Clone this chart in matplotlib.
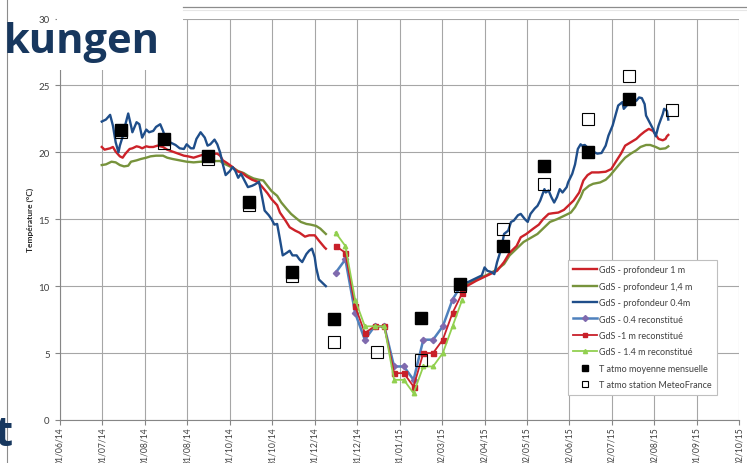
import matplotlib
matplotlib.use("Agg")
import matplotlib.pyplot as plt
from matplotlib.lines import Line2D
from matplotlib.patches import Rectangle
import numpy as np
import pandas as pd

plt.rcParams['font.family'] = ['Lato', 'DejaVu Sans']

# ---- ground temperature, daily records (first period) ----
gds_04_a = [
    ("2014-07-01", 22.3), ("2014-07-04", 22.45), ("2014-07-07", 22.8), ("2014-07-09", 22.0),
    ("2014-07-11", 20.75), ("2014-07-13", 20.0), ("2014-07-14", 20.5), ("2014-07-17", 21.5),
    ("2014-07-18", 22.1), ("2014-07-20", 22.9), ("2014-07-22", 22.0), ("2014-07-23", 21.5),
    ("2014-07-26", 22.25), ("2014-07-28", 22.1), ("2014-07-30", 21.1), ("2014-08-02", 21.7),
    ("2014-08-04", 21.5), ("2014-08-07", 21.6), ("2014-08-09", 21.9), ("2014-08-12", 22.1),
    ("2014-08-14", 21.6), ("2014-08-16", 21.0), ("2014-08-19", 20.75), ("2014-08-23", 20.55),
    ("2014-08-26", 20.3), ("2014-08-29", 20.25), ("2014-08-31", 20.6), ("2014-09-03", 20.3),
    ("2014-09-05", 20.3), ("2014-09-07", 21.0), ("2014-09-10", 21.5), ("2014-09-13", 21.1),
    ("2014-09-15", 20.5), ("2014-09-17", 20.6), ("2014-09-20", 20.95), ("2014-09-22", 20.6),
    ("2014-09-24", 20.0), ("2014-09-26", 19.1), ("2014-09-28", 18.3), ("2014-10-01", 18.6),
    ("2014-10-03", 18.9), ("2014-10-05", 18.6), ("2014-10-07", 18.1), ("2014-10-09", 18.4),
    ("2014-10-11", 18.0), ("2014-10-12", 17.8), ("2014-10-14", 17.4), ("2014-10-17", 17.5),
    ("2014-10-19", 17.6), ("2014-10-22", 17.8), ("2014-10-24", 16.75), ("2014-10-26", 15.65),
    ("2014-10-29", 15.3), ("2014-10-31", 15.0), ("2014-11-02", 14.6), ("2014-11-04", 14.65),
    ("2014-11-06", 13.5), ("2014-11-08", 12.3), ("2014-11-11", 12.5), ("2014-11-13", 12.65),
    ("2014-11-15", 12.3), ("2014-11-18", 12.3), ("2014-11-20", 12.0), ("2014-11-22", 11.8),
    ("2014-11-25", 12.4), ("2014-11-27", 12.65), ("2014-11-29", 12.8), ("2014-12-01", 12.15),
    ("2014-12-02", 11.4), ("2014-12-04", 10.5), ("2014-12-09", 10.0),
]

gds_1_a = [
    ("2014-07-01", 20.4), ("2014-07-03", 20.2), ("2014-07-07", 20.3), ("2014-07-09", 20.4),
    ("2014-07-11", 20.05), ("2014-07-14", 19.7), ("2014-07-16", 19.6), ("2014-07-18", 19.9),
    ("2014-07-21", 20.25), ("2014-07-23", 20.3), ("2014-07-26", 20.45), ("2014-07-28", 20.4),
    ("2014-07-30", 20.3), ("2014-08-02", 20.45), ("2014-08-04", 20.4), ("2014-08-07", 20.4),
    ("2014-08-10", 20.5), ("2014-08-14", 20.4), ("2014-08-17", 20.2), ("2014-08-21", 20.05),
    ("2014-08-25", 19.9), ("2014-08-29", 19.75), ("2014-09-01", 19.7), ("2014-09-05", 19.6),
    ("2014-09-08", 19.7), ("2014-09-11", 19.8), ("2014-09-14", 19.8), ("2014-09-18", 19.9),
    ("2014-09-22", 19.9), ("2014-09-24", 19.75), ("2014-09-26", 19.4), ("2014-09-29", 19.2),
    ("2014-10-03", 18.9), ("2014-10-06", 18.6), ("2014-10-10", 18.45), ("2014-10-13", 18.2),
    ("2014-10-17", 17.95), ("2014-10-21", 17.8), ("2014-10-24", 17.45), ("2014-10-28", 16.95),
    ("2014-10-31", 16.5), ("2014-11-04", 16.05), ("2014-11-06", 15.5), ("2014-11-10", 14.9),
    ("2014-11-13", 14.4), ("2014-11-17", 14.15), ("2014-11-20", 14.0), ("2014-11-24", 13.7),
    ("2014-11-27", 13.8), ("2014-12-01", 13.8), ("2014-12-04", 13.4), ("2014-12-08", 12.9),
    ("2014-12-09", 12.8),
]

gds_14_a = [
    ("2014-07-01", 19.05), ("2014-07-04", 19.1), ("2014-07-08", 19.3), ("2014-07-11", 19.25),
    ("2014-07-14", 19.05), ("2014-07-17", 18.95), ("2014-07-20", 19.0), ("2014-07-22", 19.3),
    ("2014-07-26", 19.4), ("2014-07-29", 19.5), ("2014-08-02", 19.6), ("2014-08-05", 19.7),
    ("2014-08-09", 19.75), ("2014-08-14", 19.75), ("2014-08-17", 19.6), ("2014-08-21", 19.5),
    ("2014-08-26", 19.4), ("2014-08-31", 19.3), ("2014-09-05", 19.25), ("2014-09-10", 19.3),
    ("2014-09-14", 19.3), ("2014-09-19", 19.35), ("2014-09-24", 19.35), ("2014-09-26", 19.2),
    ("2014-09-30", 19.0), ("2014-10-04", 18.8), ("2014-10-07", 18.6), ("2014-10-11", 18.45),
    ("2014-10-14", 18.25), ("2014-10-18", 18.05), ("2014-10-22", 17.95), ("2014-10-25", 17.9),
    ("2014-10-28", 17.5), ("2014-10-31", 17.1), ("2014-11-04", 16.75), ("2014-11-07", 16.25),
    ("2014-11-11", 15.75), ("2014-11-14", 15.4), ("2014-11-18", 15.05), ("2014-11-21", 14.8),
    ("2014-11-25", 14.65), ("2014-11-28", 14.6), ("2014-12-02", 14.5), ("2014-12-05", 14.3),
    ("2014-12-09", 13.9),
]

# ---- ground temperature, daily records (second period) ----
gds_04_b = [
    ("2015-03-18", 10.3), ("2015-03-21", 10.3), ("2015-03-24", 10.45), ("2015-03-31", 10.8),
    ("2015-04-02", 11.4), ("2015-04-04", 11.15), ("2015-04-07", 11.05), ("2015-04-09", 10.9),
    ("2015-04-11", 11.8), ("2015-04-14", 12.8), ("2015-04-16", 13.9), ("2015-04-19", 14.15),
    ("2015-04-21", 14.8), ("2015-04-23", 14.9), ("2015-04-26", 15.3), ("2015-04-28", 15.4),
    ("2015-05-01", 15.0), ("2015-05-03", 14.8), ("2015-05-05", 15.4), ("2015-05-08", 15.8),
    ("2015-05-10", 16.0), ("2015-05-12", 16.4), ("2015-05-15", 17.25), ("2015-05-16", 17.0),
    ("2015-05-18", 17.15), ("2015-05-20", 16.65), ("2015-05-22", 16.25), ("2015-05-24", 16.65),
    ("2015-05-26", 17.25), ("2015-05-28", 17.0), ("2015-05-31", 17.4), ("2015-06-01", 17.75),
    ("2015-06-04", 18.4), ("2015-06-06", 19.1), ("2015-06-08", 20.25), ("2015-06-10", 20.6),
    ("2015-06-11", 20.5), ("2015-06-13", 20.55), ("2015-06-16", 20.25), ("2015-06-19", 20.05),
    ("2015-06-22", 19.9), ("2015-06-25", 19.95), ("2015-06-28", 20.5), ("2015-06-30", 21.25),
    ("2015-07-03", 22.0), ("2015-07-05", 22.75), ("2015-07-07", 23.5), ("2015-07-10", 23.75),
    ("2015-07-11", 23.25), ("2015-07-14", 23.6), ("2015-07-16", 23.75), ("2015-07-18", 24.0),
    ("2015-07-20", 23.85), ("2015-07-22", 24.1), ("2015-07-24", 24.05), ("2015-07-26", 23.6),
    ("2015-07-27", 22.75), ("2015-07-29", 22.35), ("2015-08-01", 21.75), ("2015-08-03", 21.2),
    ("2015-08-05", 22.0), ("2015-08-08", 22.85), ("2015-08-09", 23.25), ("2015-08-11", 23.1),
    ("2015-08-12", 22.45),
]

gds_1_b = [
    ("2015-03-21", 10.05), ("2015-03-27", 10.4), ("2015-04-04", 10.8), ("2015-04-11", 11.15),
    ("2015-04-16", 11.8), ("2015-04-20", 12.5), ("2015-04-25", 13.0), ("2015-04-28", 13.65),
    ("2015-05-02", 13.9), ("2015-05-07", 14.3), ("2015-05-11", 14.6), ("2015-05-14", 15.0),
    ("2015-05-18", 15.4), ("2015-05-21", 15.45), ("2015-05-25", 15.5), ("2015-05-29", 15.7),
    ("2015-06-01", 16.0), ("2015-06-05", 16.4), ("2015-06-09", 17.0), ("2015-06-12", 17.9),
    ("2015-06-15", 18.3), ("2015-06-18", 18.5), ("2015-06-23", 18.5), ("2015-06-28", 18.55),
    ("2015-07-02", 18.75), ("2015-07-05", 19.25), ("2015-07-09", 19.9), ("2015-07-12", 20.5),
    ("2015-07-16", 20.75), ("2015-07-20", 21.0), ("2015-07-23", 21.3), ("2015-07-26", 21.55),
    ("2015-07-29", 21.75), ("2015-08-01", 21.6), ("2015-08-03", 21.3), ("2015-08-05", 21.0),
    ("2015-08-08", 20.9), ("2015-08-10", 21.0), ("2015-08-11", 21.2), ("2015-08-12", 21.3),
]

gds_14_b = [
    ("2015-03-21", 10.15), ("2015-03-27", 10.5), ("2015-04-04", 10.85), ("2015-04-11", 11.25),
    ("2015-04-16", 11.65), ("2015-04-20", 12.3), ("2015-04-25", 12.8), ("2015-04-30", 13.3),
    ("2015-05-05", 13.6), ("2015-05-10", 13.9), ("2015-05-14", 14.3), ("2015-05-19", 14.8),
    ("2015-05-24", 15.0), ("2015-05-29", 15.25), ("2015-06-03", 15.5), ("2015-06-06", 15.9),
    ("2015-06-10", 16.65), ("2015-06-12", 17.15), ("2015-06-16", 17.5), ("2015-06-19", 17.65),
    ("2015-06-24", 17.75), ("2015-06-28", 17.95), ("2015-07-01", 18.25), ("2015-07-05", 18.75),
    ("2015-07-09", 19.25), ("2015-07-12", 19.6), ("2015-07-16", 19.9), ("2015-07-20", 20.15),
    ("2015-07-23", 20.4), ("2015-07-27", 20.55), ("2015-07-30", 20.55), ("2015-08-03", 20.4),
    ("2015-08-06", 20.25), ("2015-08-10", 20.3), ("2015-08-12", 20.45),
]

# ---- reconstructed weekly values during the data gap ----
recon_dates = ["2014-12-16", "2014-12-23", "2014-12-30", "2015-01-06", "2015-01-13",
               "2015-01-20", "2015-01-27", "2015-02-03", "2015-02-10", "2015-02-17",
               "2015-02-24", "2015-03-03", "2015-03-10", "2015-03-17"]
recon_04 = [11.0, 12.0, 8.0, 6.0, 7.0, 7.0, 4.0, 4.0, 3.0, 6.0, 6.0, 7.0, 9.0, 10.2]
recon_1 = [13.0, 12.5, 8.5, 6.5, 7.0, 7.0, 3.5, 3.5, 2.5, 5.0, 5.0, 6.0, 8.0, 9.5]
recon_14 = [14.0, 13.0, 9.0, 7.0, 7.0, 7.0, 3.0, 3.0, 2.0, 4.0, 4.0, 5.0, 7.0, 9.0]

# ---- monthly air temperature ----
month_dates = ["2014-07-15", "2014-08-15", "2014-09-15", "2014-10-15", "2014-11-15",
               "2014-12-15", "2015-01-15", "2015-02-15", "2015-03-15", "2015-04-15",
               "2015-05-15", "2015-06-15", "2015-07-15", "2015-08-15"]
t_atmo_moy = [21.7, 21.0, 19.75, 16.3, 11.05, 7.55, np.nan, 7.6, 10.15, 13.0,
              19.0, 20.0, 24.0, np.nan]
t_atmo_meteofrance = [21.5, 20.7, 19.5, 16.1, 10.75, 5.8, 5.1, 4.5, 10.0, 14.3,
                      17.6, 22.5, 25.7, 23.2]

# ---- axis ticks ----
x_tick_labels = ["01/06/14", "01/07/14", "01/08/14", "31/08/14", "01/10/14", "31/10/14",
                 "01/12/14", "31/12/14", "31/01/15", "02/03/15", "02/04/15", "02/05/15",
                 "02/06/15", "02/07/15", "02/08/15", "01/09/15", "02/10/15"]
y_ticks = [0, 5, 10, 15, 20, 25, 30]

labels = ["GdS - profondeur 1 m", "GdS - profondeur 1,4 m", "GdS - profondeur 0.4m",
          "GdS - 0.4 reconstitué", "GdS -1 m reconstitué", "GdS - 1.4 m reconstitué",
          "T atmo moyenne mensuelle", "T atmo station MeteoFrance"]

C_RED = "#CC2229"
C_OLIVE = "#77933C"
C_NAVY = "#1F4E8A"
C_LBLUE = "#4F81BD"
C_PURPLE = "#7F6AAE"
C_RRED = "#C8202A"
C_LGREEN = "#92D050"
GRID = "#A6A6A6"
TXT = "#404040"


def split(pairs):
    d = pd.to_datetime([p[0] for p in pairs])
    v = [p[1] for p in pairs]
    return d, v


W, H = 747, 464
fig = plt.figure(figsize=(W / 100, H / 100), dpi=100)
fig.patch.set_facecolor("white")

x0, x1 = 60, 739.3
y0, y1 = 421, 19.5
ax = fig.add_axes([x0 / W, 1 - y0 / H, (x1 - x0) / W, (y0 - y1) / H])

start = pd.Timestamp("2014-06-01")
tick_pos = [start + pd.Timedelta(days=30.5 * k) for k in range(len(x_tick_labels))]
ax.set_xlim(tick_pos[0], tick_pos[-1])
ax.set_ylim(0, 30)

# daily series
for pairs_a, pairs_b, col, z in [(gds_1_a, gds_1_b, C_RED, 4),
                                 (gds_14_a, gds_14_b, C_OLIVE, 3),
                                 (gds_04_a, gds_04_b, C_NAVY, 5)]:
    for pairs in (pairs_a, pairs_b):
        d, v = split(pairs)
        ax.plot(d, v, color=col, lw=1.7, zorder=z, solid_joinstyle="round")

# reconstructed series
rd = pd.to_datetime(recon_dates)
ax.plot(rd, recon_04, color=C_LBLUE, lw=1.8, marker="D", ms=3.2,
        mfc=C_PURPLE, mec=C_PURPLE, zorder=6)
ax.plot(rd, recon_1, color=C_RRED, lw=1.3, marker="s", ms=3.6,
        mfc=C_RRED, mec=C_RRED, zorder=7)
ax.plot(rd, recon_14, color=C_LGREEN, lw=1.3, marker="^", ms=3.2,
        mfc=C_LGREEN, mec=C_LGREEN, zorder=8)

# monthly air temperature
md = pd.to_datetime(month_dates)
ax.plot(md, t_atmo_meteofrance, ls="none", marker="s", ms=8.5, mfc="none",
        mec="black", mew=0.8, zorder=9)
ax.plot(md, t_atmo_moy, ls="none", marker="s", ms=8.0, mfc="black",
        mec="black", zorder=10)

# axes styling
ax.set_xticks(tick_pos)
ax.set_xticklabels(x_tick_labels, rotation=90, fontsize=6.2, color=TXT)
ax.set_yticks(y_ticks)
ax.set_yticklabels([str(t) for t in y_ticks], fontsize=7, color=TXT)
ax.grid(True, color=GRID, lw=0.8)
ax.set_axisbelow(True)
for s in ["top", "right"]:
    ax.spines[s].set_visible(False)
for s in ["left", "bottom"]:
    ax.spines[s].set_color("#868686")
    ax.spines[s].set_linewidth(0.8)
ax.tick_params(axis="both", color="#868686", length=3.5, width=0.8)
ax.tick_params(axis="x", pad=1.2)
ax.tick_params(axis="y", pad=4)
ax.set_ylabel("Température (°C)", fontsize=6, fontweight="bold", color="#262626")
ax.yaxis.set_label_coords(-0.038, 0.5)

# legend
handles = [
    Line2D([], [], color=C_RED, lw=1.7),
    Line2D([], [], color=C_OLIVE, lw=1.7),
    Line2D([], [], color=C_NAVY, lw=1.7),
    Line2D([], [], color=C_LBLUE, lw=1.8, marker="D", ms=3, mfc=C_PURPLE, mec=C_PURPLE),
    Line2D([], [], color=C_RRED, lw=1.3, marker="s", ms=3.5, mfc=C_RRED, mec=C_RRED),
    Line2D([], [], color=C_LGREEN, lw=1.3, marker="^", ms=3, mfc=C_LGREEN, mec=C_LGREEN),
    Line2D([], [], ls="none", marker="s", ms=5, mfc="black", mec="black"),
    Line2D([], [], ls="none", marker="s", ms=5, mfc="none", mec="black", mew=0.8),
]
leg = ax.legend(handles, labels, loc="upper left",
                bbox_to_anchor=((568 - x0) / (x1 - x0), (y0 - 261) / (y0 - y1)),
                fontsize=6.5, frameon=True, fancybox=False, framealpha=1,
                edgecolor="#BFBFBF", handlelength=2.6, handletextpad=0.2,
                labelspacing=0.82, borderpad=0.6, borderaxespad=0)
leg.get_frame().set_linewidth(0.8)
for t in leg.get_texts():
    t.set_color(TXT)
leg.set_zorder(20)

# slide elements around the chart
fig.patches.append(Rectangle((57 / W, 1 - 71 / H), (183 - 57) / W, 71 / H,
                             transform=fig.transFigure, facecolor="white",
                             edgecolor="none", zorder=5))
fig.lines.append(Line2D([183 / W, 1], [1 - 8 / H, 1 - 8 / H], transform=fig.transFigure,
                        color="#8C8C8C", lw=0.9, zorder=6))
fig.lines.append(Line2D([183 / W, 1], [1 - 10.5 / H, 1 - 10.5 / H], transform=fig.transFigure,
                        color="#E6E6E6", lw=0.8, zorder=6))
fig.lines.append(Line2D([7 / W, 7 / W], [0, 1], transform=fig.transFigure,
                        color="#8C8C8C", lw=0.8, zorder=6))
fig.text(160 / W, 1 - 53 / H, "kungen", fontsize=30, fontweight="bold",
         family=["Open Sans", "DejaVu Sans"],
         color="#17375E", ha="right", va="baseline", zorder=7)
fig.text(13 / W, 1 - 446 / H, "t", fontsize=30, fontweight="bold",
         family=["Open Sans", "DejaVu Sans"],
         color="#17375E", ha="right", va="baseline", zorder=7)

fig.savefig("out.png", dpi=100, facecolor="white")
